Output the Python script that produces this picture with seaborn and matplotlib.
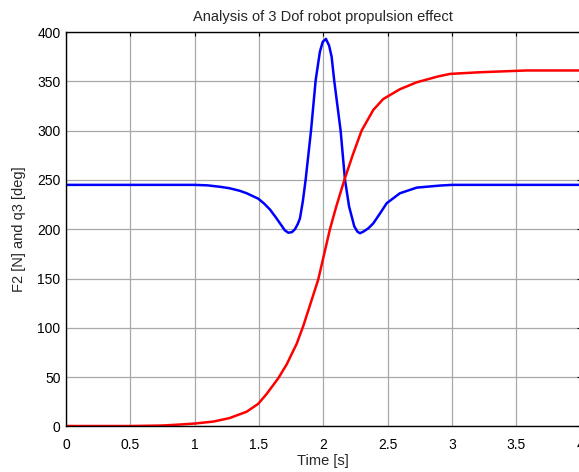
import matplotlib
matplotlib.use("Agg")
import matplotlib.pyplot as plt
import seaborn as sns
import pandas as pd

# Blue series (q3 [deg])
blue_t = [0.0, 1.0, 1.1, 1.2, 1.27, 1.35, 1.404, 1.494, 1.54, 1.585, 1.625, 1.663,
          1.70, 1.727, 1.755, 1.779, 1.80, 1.818, 1.84, 1.862, 1.904, 1.94, 1.973,
          1.995, 2.02, 2.045, 2.064, 2.085, 2.134, 2.168, 2.20, 2.24, 2.265, 2.284,
          2.31, 2.35, 2.388, 2.44, 2.492, 2.595, 2.725, 2.906, 3.0, 4.0]
blue_v = [245, 245, 244.5, 243, 241.6, 239, 236.5, 231, 226, 220, 213, 206,
          199, 196.5, 197, 200, 205, 211, 228, 250, 300, 351, 380,
          390, 393, 386, 375, 350, 300, 250, 223, 203, 197.5, 196,
          197.5, 201, 206, 216, 226.4, 236.5, 242.2, 244.3, 245, 245]

# Red series (F2 [N])
red_t = [0.0, 0.5, 0.75, 0.886, 1.0, 1.145, 1.27, 1.404, 1.494, 1.559, 1.65, 1.715,
         1.793, 1.844, 1.896, 1.96, 2.051, 2.10, 2.163, 2.23, 2.297, 2.388, 2.465,
         2.595, 2.725, 2.893, 2.984, 3.217, 3.58, 4.0]
red_v = [0.5, 0.5, 1, 2, 3, 5, 8.5, 15, 23, 33, 49, 63,
         84, 102, 123, 149, 200, 223, 250, 276, 300, 321, 332,
         342, 349, 355, 357.5, 359.2, 361, 361]

x_ticks = [0, 0.5, 1, 1.5, 2, 2.5, 3, 3.5, 4]
x_ticklabels = ["0", "0.5", "1", "1.5", "2", "2.5", "3", "3.5", "4"]
y_ticks = [0, 50, 100, 150, 200, 250, 300, 350, 400]

sns.set_style("white")
plt.rcParams['font.family'] = ['Liberation Sans', 'DejaVu Sans']

fig = plt.figure(figsize=(5.79, 4.72), dpi=100)
ax = fig.add_axes([0.114, 0.0964, 0.889, 0.8358])

blue_df = pd.DataFrame({"t": blue_t, "v": blue_v})
red_df = pd.DataFrame({"t": red_t, "v": red_v})
sns.lineplot(data=blue_df, x="t", y="v", ax=ax, color="#0000ff", linewidth=1.8, sort=False)
sns.lineplot(data=red_df, x="t", y="v", ax=ax, color="#ff0000", linewidth=1.8, sort=False)

ax.set_xlim(0, 4)
ax.set_ylim(0, 400)
ax.set_xticks(x_ticks)
ax.set_xticklabels(x_ticklabels)
ax.set_yticks(y_ticks)
ax.grid(True, color="#a8a8a8", linewidth=0.9, linestyle="-")
ax.set_axisbelow(True)
for s in ax.spines.values():
    s.set_color("black")
    s.set_linewidth(1.0)
ax.tick_params(direction="in", top=True, right=True, length=3, width=0.8,
               labelsize=10, colors="black")
ax.tick_params(axis="x", pad=8)
ax.tick_params(axis="y", pad=4)
ax.set_xlabel("Time [s]", fontsize=10.5, labelpad=2)
ax.set_ylabel("F2 [N] and q3 [deg]", fontsize=10.5, labelpad=8)
ax.set_title("Analysis of 3 Dof robot propulsion effect", fontsize=10.5, pad=8)

fig.savefig("out.png", dpi=100)
